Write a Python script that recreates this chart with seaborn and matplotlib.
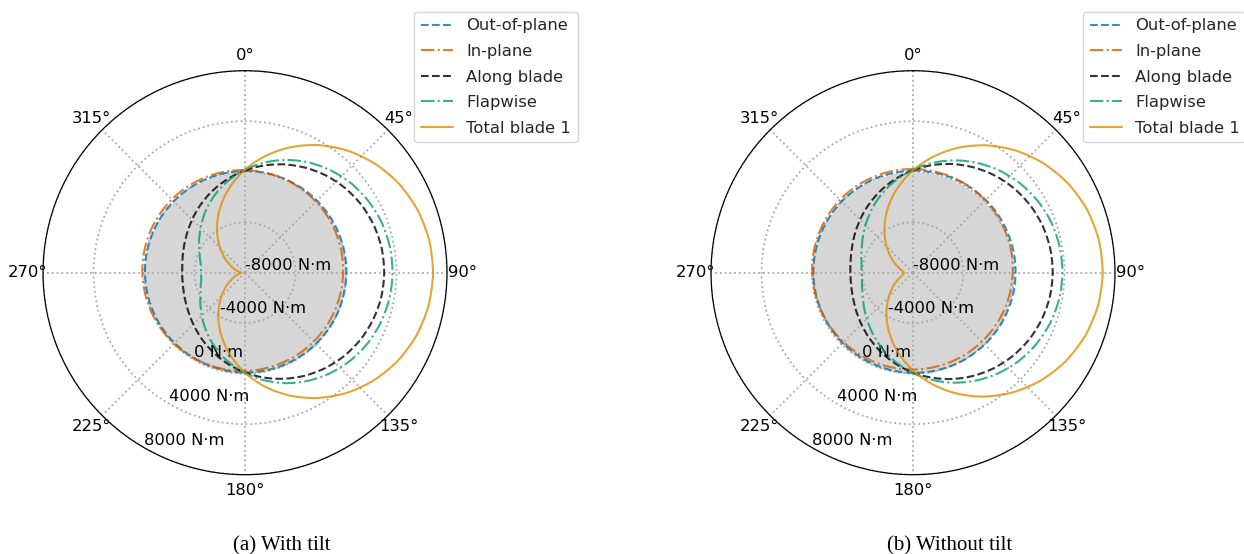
import numpy as np
import pandas as pd
import matplotlib
matplotlib.use("Agg")
import matplotlib.pyplot as plt
from matplotlib.ticker import FuncFormatter
import seaborn as sns

# Blade root moments over one rotor revolution (azimuth in degrees, moments in N·m)
AZIMUTH_DEG = list(range(0, 360, 10))

SERIES = ["Out-of-plane", "In-plane", "Along blade", "Flapwise", "Total blade 1"]

# (a) With tilt
tilt_out_of_plane = [50, 60, 60, 70, 70, 60, 60, 50, 40, 30,
                     10, 0, -20, -40, -50, -70, -80, -90, -100,
                     -110, -120, -120, -120, -120, -110, -100, -90, -80,
                     -60, -50, -30, -20, 0, 10, 30, 40]
tilt_in_plane = [130, 90, 60, 10, -30, -70, -110, -160, -190, -230,
                 -260, -280, -290, -300, -300, -290, -280, -250, -230,
                 -190, -160, -110, -70, -30, 10, 60, 90, 130,
                 160, 180, 190, 200, 200, 190, 180, 150]
tilt_along_blade = [100, 620, 1130, 1600, 2030, 2390, 2680, 2880, 3000, 3030,
                    2970, 2810, 2580, 2260, 1870, 1430, 940, 430, -100,
                    -620, -1130, -1600, -2030, -2390, -2680, -2880, -3000, -3030,
                    -2970, -2810, -2580, -2260, -1870, -1430, -940, -430]
tilt_flapwise = [160, 860, 1510, 2090, 2580, 3000, 3310, 3540, 3660, 3690,
                 3620, 3460, 3210, 2860, 2420, 1900, 1310, 650, -50,
                 -770, -1510, -2210, -2870, -3450, -3920, -4270, -4480, -4540,
                 -4450, -4200, -3820, -3310, -2710, -2030, -1310, -570]
tilt_total = [160, 1400, 2580, 3670, 4630, 5440, 6090, 6550, 6820, 6900,
              6780, 6470, 5970, 5290, 4450, 3460, 2360, 1170, -80,
              -1350, -2600, -3790, -4880, -5820, -6600, -7170, -7540, -7720,
              -7500, -7080, -6480, -5670, -4700, -3580, -2380, -1120]

# (b) Without tilt
notilt_out_of_plane = [80, 100, 120, 130, 140, 150, 150, 140, 140, 120,
                       110, 90, 70, 50, 20, 0, -30, -50, -70,
                       -90, -110, -120, -130, -130, -140, -130, -120, -110,
                       -100, -80, -60, -30, -10, 10, 40, 60]
notilt_in_plane = [210, 200, 180, 160, 120, 90, 40, 0, -50, -100,
                   -150, -190, -230, -270, -300, -320, -330, -340, -330,
                   -320, -300, -280, -240, -210, -160, -120, -70, -20,
                   30, 70, 110, 150, 180, 200, 210, 220]
notilt_along_blade = [120, 650, 1160, 1630, 2060, 2420, 2710, 2920, 3040, 3070,
                      3010, 2850, 2610, 2290, 1900, 1450, 960, 440, -90,
                      -620, -1130, -1610, -2030, -2400, -2690, -2900, -3020, -3050,
                      -2980, -2830, -2580, -2260, -1870, -1430, -940, -420]
notilt_flapwise = [160, 830, 1470, 2060, 2590, 3040, 3400, 3660, 3800, 3840,
                   3770, 3580, 3290, 2910, 2430, 1880, 1270, 620, -50,
                   -730, -1390, -2010, -2580, -3060, -3450, -3740, -3900, -3950,
                   -3870, -3660, -3350, -2930, -2420, -1830, -1190, -520]
notilt_total = [100, 1340, 2540, 3650, 4640, 5490, 6170, 6670, 6950, 7030,
                6890, 6540, 5990, 5260, 4360, 3330, 2190, 980, -260,
                -1510, -2710, -3830, -4850, -5710, -6410, -6920, -7220, -7290,
                -7150, -6790, -6230, -5480, -4570, -3520, -2360, -1140]

R_TICKS = [-8000, -4000, 0, 4000, 8000]
PANEL_TITLES = ["(a) With tilt", "(b) Without tilt"]

COLORS = ["#0173b2", "#d55e00", "#000000", "#029e73", "#de8f05"]
STYLES = ["--", "-.", "--", "-.", "-"]

sns.set_style("white")
plt.rcParams["font.family"] = ["DejaVu Sans"]
FS = 11.8


def long_frame(values_by_series):
    rows = []
    for name, vals in zip(SERIES, values_by_series):
        az = AZIMUTH_DEG + [360]
        vv = list(vals) + [vals[0]]
        for a, v in zip(az, vv):
            rows.append({"theta": np.deg2rad(a), "moment": v, "series": name})
    return pd.DataFrame(rows)


panels = [
    long_frame([tilt_out_of_plane, tilt_in_plane, tilt_along_blade, tilt_flapwise, tilt_total]),
    long_frame([notilt_out_of_plane, notilt_in_plane, notilt_along_blade, notilt_flapwise, notilt_total]),
]

W, H = 1244, 554
fig = plt.figure(figsize=(W / 100, H / 100), dpi=100)

centers_x = [245, 913]
center_y = 272.7
radius = 202
caption_x = [281.5, 950]
legend_left = [414, 1083]

for i, df in enumerate(panels):
    cx = centers_x[i]
    ax = fig.add_axes([(cx - radius) / W, (H - center_y - radius) / H,
                       2 * radius / W, 2 * radius / H], projection="polar")
    ax.set_theta_zero_location("N")
    ax.set_theta_direction(-1)
    ax.set_axisbelow("line")

    # shaded region of negative moment
    ring = np.deg2rad(AZIMUTH_DEG + [360])
    ax.fill_between(ring, R_TICKS[0], 0, color="#d6d6d6", lw=0, zorder=0.8)

    handles = []
    for name, col, ls in zip(SERIES, COLORS, STYLES):
        sub = df[df["series"] == name]
        sns.lineplot(data=sub, x="theta", y="moment", ax=ax, sort=False,
                     estimator=None, color=col, linestyle=ls, lw=1.5,
                     alpha=0.8, label=name, legend=False)
        line = ax.lines[-1]
        # draw each segment along the polar grid instead of as a chord
        line.get_path()._interpolation_steps = 12
        handles.append(line)

    ax.set_xlabel("")
    ax.set_ylabel("")
    ax.set_rlim(R_TICKS[0], R_TICKS[-1])
    ax.set_rticks(R_TICKS)
    ax.yaxis.set_major_formatter(FuncFormatter(lambda v, p: f"{int(v)} N·m"))
    ax.set_rlabel_position(210)
    ax.set_thetagrids(range(0, 360, 45))
    ax.tick_params(labelsize=FS, colors="black")
    ax.tick_params(axis="x", pad=0.8)
    ax.grid(True, linestyle=":", linewidth=1.3, color="#a9a9a9")
    ax.spines["polar"].set_color("black")
    ax.spines["polar"].set_linewidth(0.9)

    ax.legend(handles=handles, labels=SERIES, loc="upper left",
              bbox_to_anchor=(legend_left[i] / W, 1 - 11.7 / H),
              bbox_transform=fig.transFigure, borderaxespad=0,
              fontsize=FS, labelspacing=0.65, framealpha=0.8, edgecolor="0.8")

    fig.text(caption_x[i] / W, 1 - 550 / H, PANEL_TITLES[i],
             ha="center", va="baseline", fontsize=15,
             family=["Liberation Serif", "DejaVu Serif"], color="black")

fig.savefig("out.png", dpi=100)
